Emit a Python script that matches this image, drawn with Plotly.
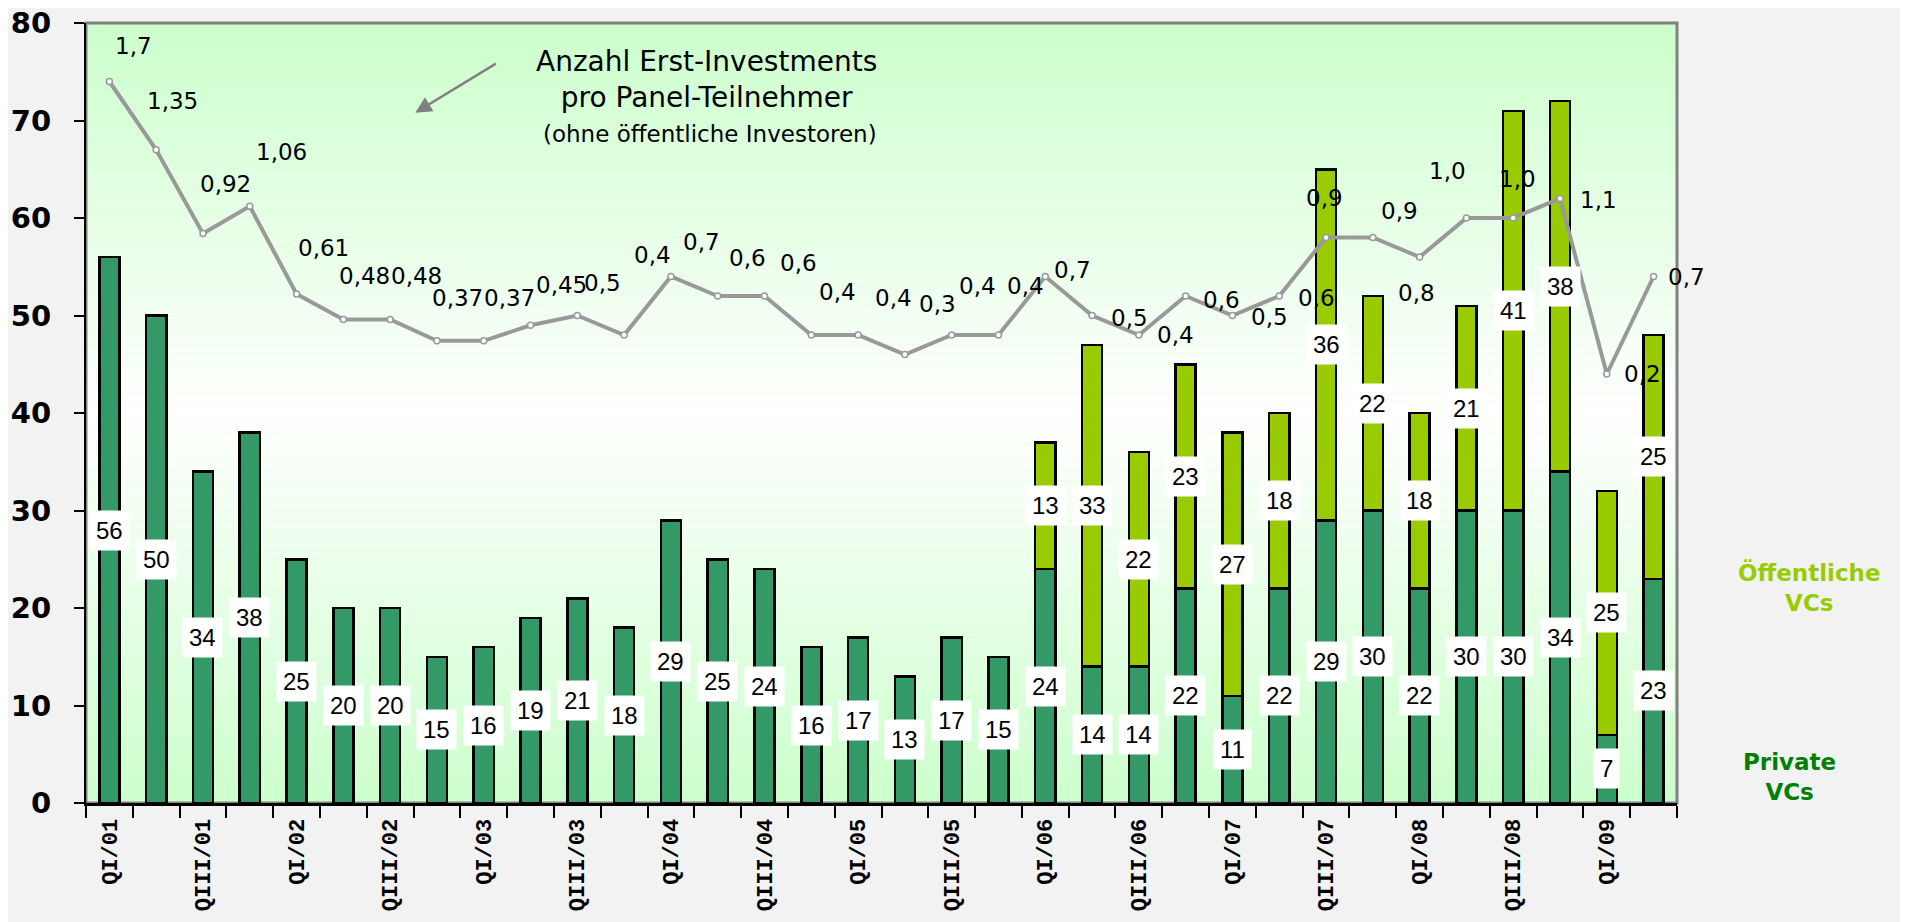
import plotly.graph_objects as go

quarters = ["QI/01", "QII/01", "QIII/01", "QIV/01", "QI/02", "QII/02", "QIII/02", "QIV/02",
            "QI/03", "QII/03", "QIII/03", "QIV/03", "QI/04", "QII/04", "QIII/04", "QIV/04",
            "QI/05", "QII/05", "QIII/05", "QIV/05", "QI/06", "QII/06", "QIII/06", "QIV/06",
            "QI/07", "QII/07", "QIII/07", "QIV/07", "QI/08", "QII/08", "QIII/08", "QIV/08",
            "QI/09", "QII/09"]
tick_labels = ["QI/01", "", "QIII/01", "", "QI/02", "", "QIII/02", "",
               "QI/03", "", "QIII/03", "", "QI/04", "", "QIII/04", "",
               "QI/05", "", "QIII/05", "", "QI/06", "", "QIII/06", "",
               "QI/07", "", "QIII/07", "", "QI/08", "", "QIII/08", "",
               "QI/09", ""]
private_vcs = [56, 50, 34, 38, 25, 20, 20, 15, 16, 19, 21, 18, 29, 25, 24, 16, 17, 13, 17, 15,
               24, 14, 14, 22, 11, 22, 29, 30, 22, 30, 30, 34, 7, 23]
public_vcs = [None, None, None, None, None, None, None, None, None, None, None, None, None,
              None, None, None, None, None, None, None,
              13, 33, 22, 23, 27, 18, 36, 22, 18, 21, 41, 38, 25, 25]
ratio = [1.7, 1.35, 0.92, 1.06, 0.61, 0.48, 0.48, 0.37, 0.37, 0.45, 0.5, 0.4, 0.7, 0.6, 0.6,
         0.4, 0.4, 0.3, 0.4, 0.4, 0.7, 0.5, 0.4, 0.6, 0.5, 0.6, 0.9, 0.9, 0.8, 1.0, 1.0, 1.1,
         0.2, 0.7]

# label offsets (style) for the ratio labels, in pixels (dx, dy; dy negative = up)
ratio_label_offsets = [(24, -36), (16, -49), (23, -50), (32, -54), (27, -46), (21, -43),
                       (26, -43), (21, -43), (26, -43), (31, -40), (25, -33), (28, -80),
                       (31, -35), (30, -38), (34, -33), (26, -43), (35, -37), (33, -51),
                       (26, -49), (27, -49), (27, -7), (37, 2), (37, 0), (36, 4), (37, 1),
                       (37, 2), (-2, -40), (27, -27), (-3, 36), (-19, -47), (4, -39),
                       (38, 1), (36, 0), (33, 0)]


def fmt_de(v):
    s = f"{v:.2f}".rstrip("0")
    if s.endswith("."):
        s += "0"
    return s.replace(".", ",")


DARK = "#339966"
LIGHT = "#99CC00"

fig = go.Figure()
fig.add_trace(go.Bar(x=quarters, y=private_vcs, name="Private VCs",
                     marker=dict(color=DARK, line=dict(color="black", width=2.5))))
fig.add_trace(go.Bar(x=quarters, y=public_vcs, name="Öffentliche VCs",
                     marker=dict(color=LIGHT, line=dict(color="black", width=2.5))))
fig.add_trace(go.Scatter(x=quarters, y=ratio, yaxis="y2", mode="lines+markers",
                         line=dict(color="#999999", width=4),
                         marker=dict(size=6, color="white", line=dict(color="#999999", width=1.5)),
                         name="ratio"))

annotations = []
# ratio labels
for q, v, (dx, dy) in zip(quarters, ratio, ratio_label_offsets):
    annotations.append(dict(x=q, y=v, xref="x", yref="y2", text=fmt_de(v), showarrow=False,
                            xshift=dx, yshift=-dy, xanchor="center", yanchor="middle",
                            font=dict(family="DejaVu Sans", size=23, color="black")))
# bar labels
for q, p, o in zip(quarters, private_vcs, public_vcs):
    annotations.append(dict(x=q, y=p / 2, xref="x", yref="y", text=str(p), showarrow=False,
                            bgcolor="white", borderpad=6, xanchor="center", yanchor="middle",
                            font=dict(family="Liberation Sans", size=24, color="black")))
    if o:
        annotations.append(dict(x=q, y=p + o / 2, xref="x", yref="y", text=str(o), showarrow=False,
                                bgcolor="white", borderpad=6, xanchor="center", yanchor="middle",
                                font=dict(family="Liberation Sans", size=24, color="black")))
# title text & arrow
annotations.append(dict(xref="paper", yref="paper", x=0.390, y=0.928, xanchor="center",
                        yanchor="middle",
                        text="Anzahl Erst-Investments<br>pro Panel-Teilnehmer", showarrow=False,
                        font=dict(family="DejaVu Sans", size=28, color="black"), align="center"))
annotations.append(dict(xref="paper", yref="paper", x=0.392, y=0.858, xanchor="center",
                        yanchor="middle",
                        text="(ohne öffentliche Investoren)", showarrow=False,
                        font=dict(family="DejaVu Sans", size=23, color="black")))
annotations.append(dict(xref="paper", yref="paper", x=0.207, y=0.885, text="", showarrow=True,
                        ax=82, ay=-50, arrowhead=2, arrowsize=1.3, arrowwidth=2.5,
                        arrowcolor="#808080"))
# side legend texts
annotations.append(dict(xref="paper", yref="paper", x=1.083, y=0.276, xanchor="center",
                        yanchor="middle",
                        text="<b>Öffentliche<br>VCs</b>", showarrow=False, align="center",
                        font=dict(family="DejaVu Sans", size=23, color=LIGHT)))
annotations.append(dict(xref="paper", yref="paper", x=1.071, y=0.033, xanchor="center",
                        yanchor="middle",
                        text="<b>Private<br>VCs</b>", showarrow=False, align="center",
                        font=dict(family="DejaVu Sans", size=23, color="#008000")))

# vertical gradient background: green -> white (middle) -> green
shapes = []
g0 = (204, 255, 204)
n = 80
for i in range(n):
    yc = i + 0.5
    t = 1 - abs(yc - 40) / 40.0  # 0 at edges, 1 at middle
    c = tuple(int(round(g0[k] + (255 - g0[k]) * t)) for k in range(3))
    shapes.append(dict(type="rect", xref="paper", yref="y", x0=0, x1=1, y0=i, y1=i + 1,
                       fillcolor=f"rgb{c}", line=dict(width=0), layer="below"))
shapes.append(dict(type="rect", xref="paper", yref="paper", x0=0, x1=1, y0=0, y1=1,
                   line=dict(color="#808080", width=3), layer="below"))

# page body has an 8px default margin -> figure shrunk by 8px, margins compensated
fig.update_layout(
    barmode="stack", bargap=0.57,
    width=1900, height=914,
    margin=dict(l=78, r=231, t=15, b=119, autoexpand=False),
    paper_bgcolor="#F2F2F2", plot_bgcolor="#CCFFCC",
    showlegend=False,
    annotations=annotations, shapes=shapes,
    xaxis=dict(type="category", range=[-0.5, len(quarters) - 0.5], autorange=False,
               automargin=False, ticklabeloverflow="allow",
               tickvals=quarters, ticktext=tick_labels, tickson="boundaries",
               ticks="outside", ticklen=12, tickwidth=2, tickcolor="black", tickangle=-90,
               ticklabelstandoff=4,
               tickfont=dict(family="Liberation Mono", size=22, color="black", weight="bold"),
               showline=True, linecolor="black", linewidth=3, showgrid=False, zeroline=False),
    yaxis=dict(range=[0, 80], dtick=10, ticks="outside", ticklen=10, tickwidth=2,
               automargin=False, ticklabeloverflow="allow",
               tickcolor="black", showline=True, linecolor="black", linewidth=2,
               showgrid=False, zeroline=False, ticklabelstandoff=17,
               tickfont=dict(family="DejaVu Sans", size=29, color="black", weight="bold")),
    yaxis2=dict(overlaying="y", range=[-2, 2], visible=False),
)

fig.write_html("out.html")
